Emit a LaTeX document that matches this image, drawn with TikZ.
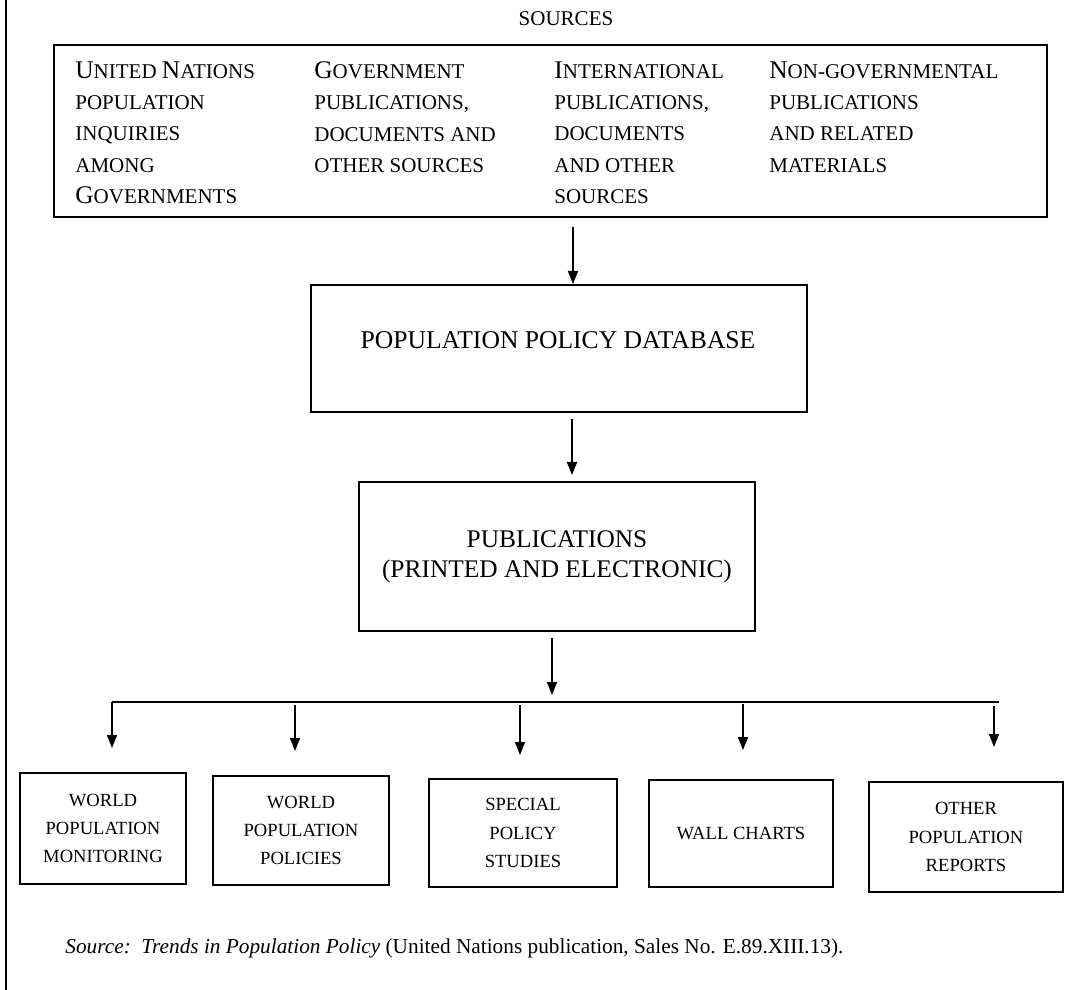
\documentclass[tikz,border=0pt]{standalone}
\usepackage{fontspec}
\setmainfont{Liberation Serif}
\usetikzlibrary{arrows.meta}

\newcommand{\capl}[1]{{\fontsize{12.7}{15.6}\selectfont #1}}

\tikzset{
  box/.style={draw, line width=1pt, inner sep=0pt, align=center},
  arr/.style={line width=0.75pt, -{Triangle[length=6.5pt,width=5pt]}},
  bar/.style={line width=0.9pt},
  srccol/.style={anchor=north west, inner sep=0pt, align=left,
    font=\fontsize{10.5}{15.6}\selectfont},
  outbox/.style={box, font=\fontsize{9.3}{14.2}\selectfont},
}

\begin{document}
\begin{tikzpicture}[x=0.5pt, y=-0.5pt]
    \useasboundingbox (0,0) rectangle (1084,990);

    % Page rule
    \draw[line width=1pt] (6,0) -- (6,990);

    % Sources box
    \node[inner sep=0pt, font=\fontsize{10.5}{13}\selectfont] (srclbl) at (566,19) {SOURCES};
    \node[box, minimum width=496.5pt, minimum height=86pt] (src) at (550.5,131) {};

    % -- columns
    \node[srccol] (un) at (75,61.5) {\capl{U}NITED \capl{N}ATIONS\\POPULATION\\INQUIRIES\\AMONG\\\capl{G}OVERNMENTS};
    \node[srccol] (gov) at (314,61.5) {\capl{G}OVERNMENT\\PUBLICATIONS,\\DOCUMENTS AND\\OTHER SOURCES};
    \node[srccol] (intl) at (554,61.5) {\capl{I}NTERNATIONAL\\PUBLICATIONS,\\DOCUMENTS\\AND OTHER\\SOURCES};
    \node[srccol] (ngo) at (769,61.5) {\capl{N}ON-GOVERNMENTAL\\PUBLICATIONS\\AND RELATED\\MATERIALS};

    % Database box
    \node[box, minimum width=248pt, minimum height=63.5pt] (db) at (559,348.5) {};
    \node[inner sep=0pt, font=\fontsize{12.8}{15}\selectfont] (dbtxt) at (558,340) {POPULATION POLICY DATABASE};

    % Publications box
    \node[box, minimum width=198pt, minimum height=74.5pt,
      font=\fontsize{12.7}{15}\selectfont] (pub) at (557,556.5)
      {PUBLICATIONS\\(PRINTED AND ELECTRONIC)};

    % Arrows down the middle
    \coordinate (a1) at (573,227);
    \coordinate (a2) at (572,419);
    \coordinate (a2e) at (572,475);
    \coordinate (a3) at (552,638);
    \coordinate (a3e) at (552,695);
    \draw[arr] (a1) -- (a1 |- db.north);
    \draw[arr] (a2) -- (a2e);
    \draw[arr] (a3) -- (a3e);

    % Distribution bar
    \coordinate (busL) at (112,702);
    \coordinate (busR) at (999,702);
    \draw[bar] (busL) -- (busR);

    % Output boxes
    \node[outbox, minimum width=83pt, minimum height=55.5pt] (wpm) at (103,828.5) {WORLD\\POPULATION\\MONITORING};
    \node[outbox, minimum width=88pt, minimum height=54.5pt] (wpp) at (301,830.5) {WORLD\\POPULATION\\POLICIES};
    \node[outbox, minimum width=94pt, minimum height=54pt] (sps) at (523,833) {SPECIAL\\POLICY\\STUDIES};
    \node[outbox, minimum width=92pt, minimum height=53.5pt] (wch) at (741,833.5) {WALL CHARTS};
    \node[outbox, minimum width=97pt, minimum height=55pt] (opr) at (966,837) {OTHER\\POPULATION\\REPORTS};

    % -- drops from the bar
    \coordinate (d1) at (112,748);
    \coordinate (d2s) at (295,705);
    \coordinate (d2) at (295,751);
    \coordinate (d3s) at (520,705);
    \coordinate (d3) at (520,755);
    \coordinate (d4s) at (743,704);
    \coordinate (d4) at (743,750);
    \coordinate (d5s) at (994,706);
    \coordinate (d5) at (994,747);
    \draw[arr] (busL) -- (d1);
    \draw[arr] (d2s) -- (d2);
    \draw[arr] (d3s) -- (d3);
    \draw[arr] (d4s) -- (d4);
    \draw[arr] (d5s) -- (d5);

    % Source note
    \node[anchor=base west, inner sep=0pt, font=\fontsize{10.65}{12}\selectfont] (note) at (65,953)
      {\textit{Source:}\ \ \textit{Trends in Population Policy} (United Nations publication, Sales No. E.89.XIII.13).};
\end{tikzpicture}
\end{document}
